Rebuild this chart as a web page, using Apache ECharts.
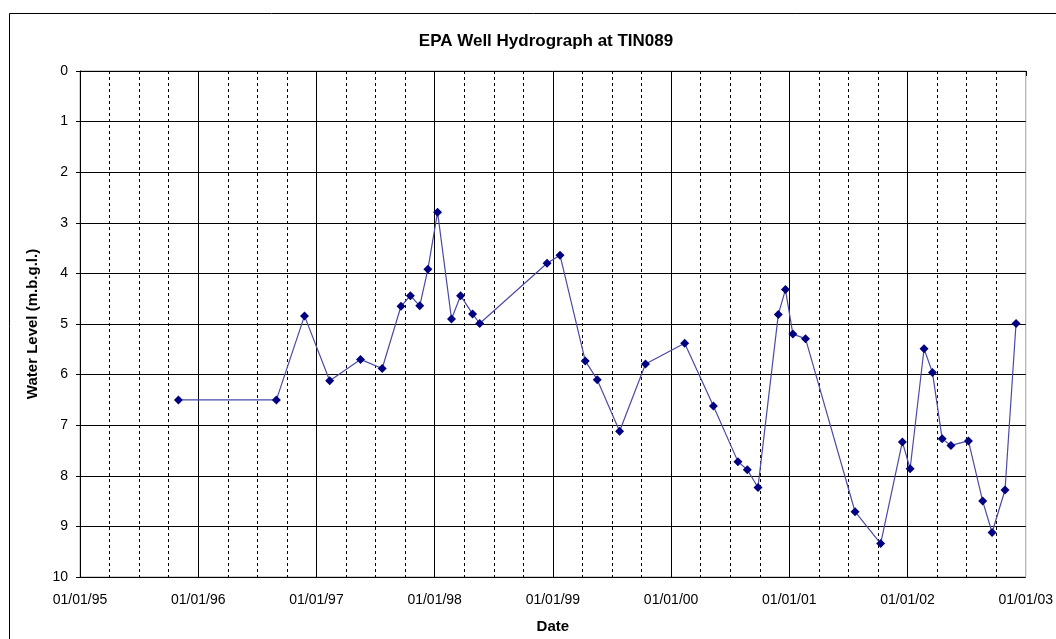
<!DOCTYPE html>
<html>
<head>
<meta charset="utf-8">
<script src="https://cdn.jsdelivr.net/npm/echarts@6/dist/echarts.min.js"></script>
<style>
  html, body { margin: 0; padding: 0; background: #fff; }
  #chart-container { width: 1056px; height: 639px; }
</style>
</head>
<body>
<div id="chart-container"></div>
<script>
// sample dates
const dates = [
  '1995-11-01', '1996-08-30', '1996-11-25', '1997-02-11', '1997-05-17',
  '1997-07-23', '1997-09-19', '1997-10-18', '1997-11-16', '1997-12-11',
  '1998-01-10', '1998-02-22', '1998-03-22', '1998-04-28', '1998-05-20',
  '1998-12-14', '1999-01-23', '1999-04-11', '1999-05-18', '1999-07-26',
  '1999-10-14', '2000-02-12', '2000-05-11', '2000-07-26', '2000-08-24',
  '2000-09-26', '2000-11-28', '2000-12-20', '2001-01-12', '2001-02-20',
  '2001-07-23', '2001-10-10', '2001-12-16', '2002-01-09', '2002-02-21',
  '2002-03-19', '2002-04-18', '2002-05-15', '2002-07-08', '2002-08-21',
  '2002-09-19', '2002-10-29', '2002-12-02'
]
// water level, metres below ground level
const waterLevel = [
  6.50, 6.50, 4.84, 6.12, 5.70,
  5.88, 4.65, 4.44, 4.64, 3.92,
  2.79, 4.90, 4.44, 4.80, 4.99,
  3.80, 3.64, 5.73, 6.10, 7.12,
  5.79, 5.38, 6.62, 7.72, 7.88,
  8.23, 4.81, 4.32, 5.20, 5.29,
  8.71, 9.34, 7.33, 7.86, 5.49,
  5.96, 7.27, 7.40, 7.31, 8.50,
  9.12, 8.28, 4.99
]
const yearTicks = [1995, 1996, 1997, 1998, 1999, 2000, 2001, 2002, 2003]

// date string -> fractional year, so the x axis stays linear in time
function toYear(s) {
  const p = s.split('-').map(Number)
  const t = Date.UTC(p[0], p[1] - 1, p[2])
  const a = Date.UTC(p[0], 0, 1)
  const b = Date.UTC(p[0] + 1, 0, 1)
  return p[0] + (t - a) / (b - a)
}

const points = dates.map((d, i) => [toYear(d), waterLevel[i]])

const font = 'Liberation Sans, Arial, sans-serif'
const chart = echarts.init(document.getElementById('chart-container'))

chart.setOption({
  backgroundColor: '#fff',
  animation: false,
  title: {
    text: 'EPA Well Hydrograph at TIN089',
    left: 541,
    top: 28,
    textAlign: 'center',
    textStyle: { fontFamily: font, fontSize: 17, fontWeight: 'bold', color: '#000' }
  },
  graphic: [{
    type: 'rect',
    shape: { x: 9.5, y: 13.5, width: 1100, height: 700 },
    style: { fill: null, stroke: '#000', lineWidth: 1 },
    silent: true,
    z: -1
  }],
  grid: {
    left: 80,
    right: 25,
    top: 71,
    bottom: 55,
    show: true,
    backgroundColor: '#fff',
    borderColor: '#a0a0a0',
    borderWidth: 1
  },
  xAxis: {
    type: 'value',
    min: yearTicks[0],
    max: yearTicks[yearTicks.length - 1],
    interval: 1,
    name: 'Date',
    nameLocation: 'middle',
    nameGap: 42,
    nameTextStyle: { fontFamily: font, fontSize: 15, fontWeight: 'bold', color: '#000' },
    axisLine: { lineStyle: { color: '#000', width: 1 } },
    axisTick: { length: 5, lineStyle: { color: '#000' } },
    axisLabel: {
      fontFamily: font, fontSize: 14, color: '#000', margin: 16,
      formatter: v => '01/01/' + String(v).slice(2)
    },
    splitLine: { show: true, showMaxLine: false, lineStyle: { color: '#000', width: 1 } },
    minorTick: { show: false, splitNumber: 4 },
    minorSplitLine: { show: true, lineStyle: { color: '#000', width: 1, type: [3, 3] } }
  },
  yAxis: {
    type: 'value',
    inverse: true,
    min: 0,
    max: 10,
    interval: 1,
    name: 'Water Level (m.b.g.l.)',
    nameLocation: 'middle',
    nameGap: 40,
    nameTextStyle: { fontFamily: font, fontSize: 15, fontWeight: 'bold', color: '#000' },
    axisLine: { show: true, lineStyle: { color: '#000', width: 1 } },
    axisTick: { show: true, length: 4, lineStyle: { color: '#000' } },
    axisLabel: { fontFamily: font, fontSize: 14, color: '#000', margin: 12 },
    splitLine: { show: true, showMinLine: false, lineStyle: { color: '#000', width: 1 } }
  },
  series: [{
    name: 'TIN089',
    type: 'line',
    data: points,
    symbol: 'diamond',
    symbolSize: 9,
    itemStyle: { color: '#000080' },
    lineStyle: { color: '#4a4aa8', width: 1.2 }
  }]
})
</script>
</body>
</html>
